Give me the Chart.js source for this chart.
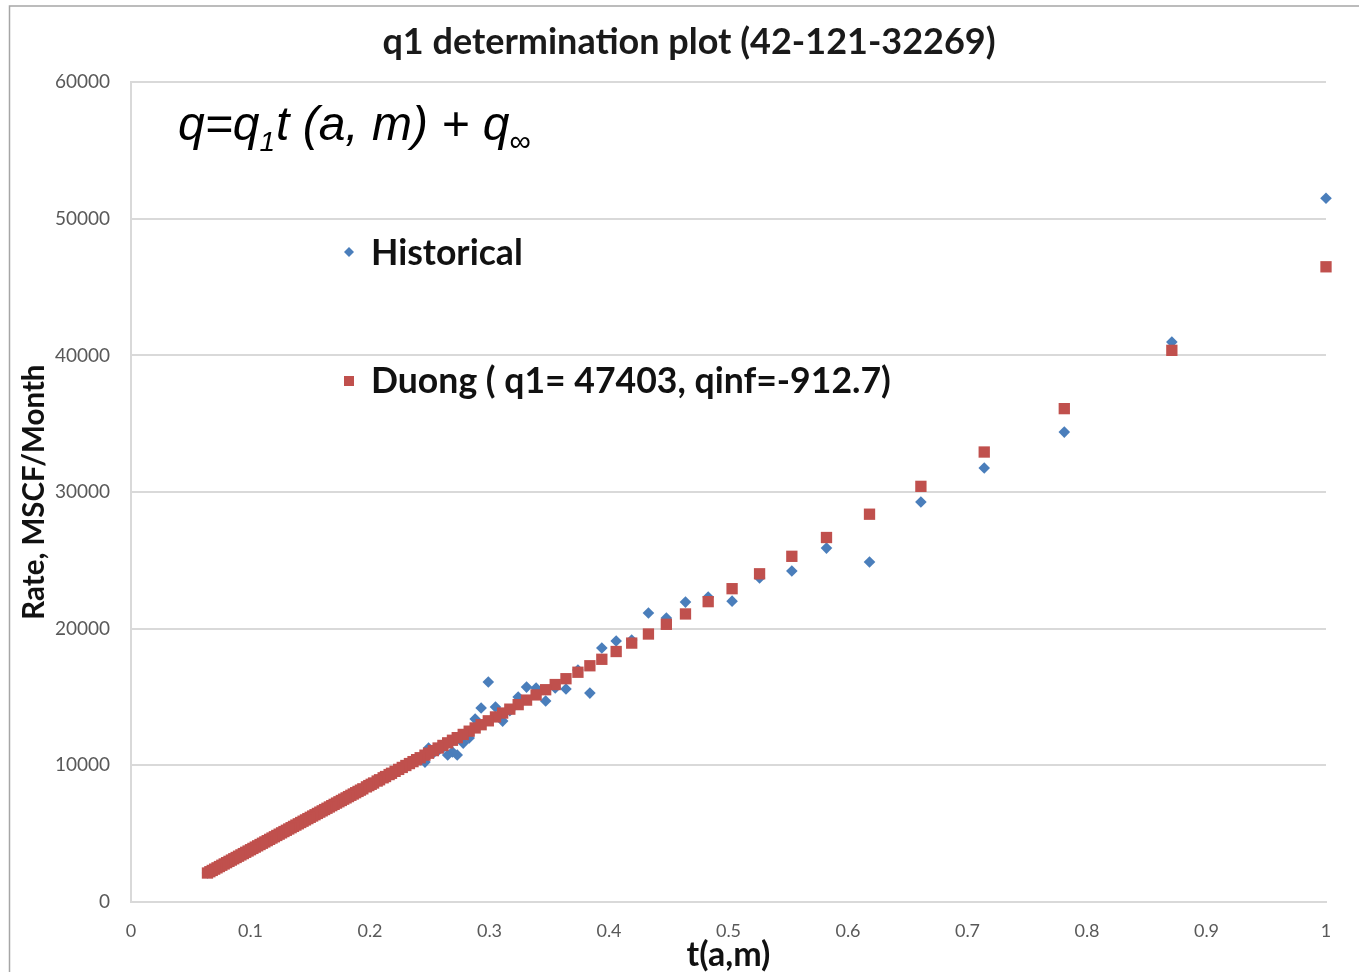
<!DOCTYPE html>
<html>
<head>
<meta charset="utf-8">
<script src="https://cdn.jsdelivr.net/npm/chart.js@4.4.1/dist/chart.umd.min.js"></script>
<style>
html,body{margin:0;padding:0;background:#fff;}
#wrap{position:relative;width:1359px;height:972px;}
canvas{display:block;}
</style>
</head>
<body>
<div id="wrap"><canvas id="c" width="1359" height="972"></canvas></div>
<script>
// ---- data ----
const tValues = [
 1.000,0.871,0.781,0.714,0.661,0.618,0.582,0.553,0.526,0.503,
 0.483,0.464,0.448,0.433,0.419,0.406,0.394,0.384,0.374,0.364,
 0.355,0.347,0.339,0.331,0.324,0.317,0.311,0.305,0.299,0.293,
 0.288,0.283,0.278,0.273,0.269,0.265,0.261,0.257,0.253,0.249,
 0.246,0.242,
 0.239,0.236,0.233,0.230,0.227,0.224,0.221,0.218,0.216,0.213,
 0.211,0.208,0.206,0.203,0.201,0.199,0.197,0.194,0.192,0.190,
 0.188,0.186,0.184,0.182,
 0.180,0.178,0.176,0.174,0.172,0.170,0.168,0.166,0.164,0.162,
 0.160,0.158,0.156,0.154,0.152,0.150,0.148,0.146,0.144,0.142,
 0.140,0.138,0.136,0.134,0.132,0.130,0.128,0.126,0.124,0.122,
 0.120,0.118,0.116,0.114,0.112,0.110,0.108,0.106,0.104,0.102,
 0.100,0.098,0.096,0.094,0.092,0.090,0.088,0.086,0.084,0.082,
 0.080,0.078,0.076,0.074,0.072,0.070,0.068,0.066,0.064
];
const historicalRate = [
 51510,40980,34390,31760,29270,24880,25900,24220,23710,22020,
 22320,21950,20780,21150,19170,19100,18590,15290,16980,15590,
 15660,14710,15660,15730,15000,14000,13240,14270,16100,14200,
 13390,12000,11630,10760,10980,10760,11300,11100,10900,11270,
 10240,10400,
 10480,10210,10180,9940,9890,9660,9600,9380,9360,9150,
 9120,8900,8880,8680,8640,8490,8450,8250,8210,8060,
 8020,7880,7830,7690,
 7640,7500,7450,7310,7260,7120,7070,6930,6880,6740,
 6690,6550,6500,6360,6310,6170,6120,5980,5930,5790,
 5740,5600,5550,5410,5360,5230,5170,5040,4980,4850,
 4790,4660,4600,4470,4410,4280,4220,4090,4030,3900,
 3840,3710,3650,3520,3460,3330,3270,3140,3080,2950,
 2890,2760,2700,2570,2510,2380,2320,2190,2130
];
const duongRate = [
 46490,40375,36109,32933,30420,28382,26676,25301,24021,22931,
 21983,21082,20324,19613,18949,18333,17764,17290,16816,16342,
 15915,15536,15157,14777,14446,14114,13829,13545,13261,12976,
 12739,12502,12265,12028,11838,11649,11459,11270,11080,10890,
 10748,10559,
 10416,10274,10132,9990,9848,9705,9563,9421,9326,9184,
 9089,8947,8852,8710,8615,8520,8425,8283,8188,8094,
 7999,7904,7809,7714,
 7620,7525,7430,7335,7240,7146,7051,6956,6861,6766,
 6672,6577,6482,6387,6292,6198,6103,6008,5913,5818,
 5723,5629,5534,5439,5344,5249,5155,5060,4965,4870,
 4775,4681,4586,4491,4396,4301,4207,4112,4017,3922,
 3827,3733,3638,3543,3448,3353,3259,3164,3069,2974,
 2879,2785,2690,2595,2500,2405,2311,2216,2121
];
const seriesNames = ['Historical', 'Duong ( q1= 47403, qinf=-912.7)'];
const xTickLabels = ['0','0.1','0.2','0.3','0.4','0.5','0.6','0.7','0.8','0.9','1'];
const yTickLabels = ['0','10000','20000','30000','40000','50000','60000'];
const chartTitle = 'q1 determination plot (42-121-32269)';
const xAxisTitle = 't(a,m)';
const yAxisTitle = 'Rate, MSCF/Month';

// ---- build points ----
const histPts = tValues.map((t, i) => ({x: t, y: historicalRate[i]}));
const duongPts = tValues.map((t, i) => ({x: t, y: duongRate[i]}));

const BLUE = '#4a7ebb';
const RED = '#c0504d';

const framePlugin = {
  id: 'frame',
  afterDraw(chart) {
    const ctx = chart.ctx;
    ctx.save();
    ctx.strokeStyle = '#a6a6a6';
    ctx.lineWidth = 1.5;
    ctx.beginPath();
    ctx.moveTo(9.5, 975);
    ctx.lineTo(9.5, 6);
    ctx.lineTo(1362, 6);
    ctx.stroke();
    ctx.restore();
  }
};

const equationPlugin = {
  id: 'equation',
  afterDraw(chart) {
    const ctx = chart.ctx;
    ctx.save();
    ctx.fillStyle = '#000';
    ctx.textBaseline = 'alphabetic';
    let x = 178;
    const base = 140;
    ctx.font = 'italic 48px "Liberation Sans", Arial, sans-serif';
    ctx.fillText('q=q', x, base);
    x += ctx.measureText('q=q').width;
    ctx.font = 'italic 28px "Liberation Sans", Arial, sans-serif';
    ctx.fillText('1', x, base + 11);
    x += ctx.measureText('1').width + 1;
    ctx.font = 'italic 48px "Liberation Sans", Arial, sans-serif';
    ctx.fillText('t (a, m) + q', x, base);
    x += ctx.measureText('t (a, m) + q').width;
    ctx.font = '30px "Liberation Sans", Arial, sans-serif';
    ctx.fillText('\u221E', x, base + 11);
    ctx.restore();
  }
};

const customLegend = {
  id: 'customLegend',
  afterDraw(chart) {
    const ctx = chart.ctx;
    const ds = chart.data.datasets;
    ctx.save();
    // Historical marker (diamond)
    ctx.fillStyle = BLUE;
    ctx.beginPath();
    ctx.moveTo(349, 247); ctx.lineTo(354, 252); ctx.lineTo(349, 257); ctx.lineTo(344, 252);
    ctx.closePath(); ctx.fill();
    // Duong marker (square)
    ctx.fillStyle = RED;
    ctx.fillRect(344, 376, 10, 10);
    ctx.fillStyle = '#111';
    ctx.font = 'bold 35.6px Lato, "Open Sans", sans-serif';
    ctx.textBaseline = 'alphabetic';
    ctx.fillText(ds[0].label, 371, 265);
    ctx.fillText(ds[1].label, 371, 393);
    ctx.restore();
  }
};

new Chart(document.getElementById('c'), {
  type: 'scatter',
  data: {
    datasets: [
      {
        label: seriesNames[0],
        data: histPts,
        pointStyle: 'rectRot',
        pointRadius: 5.8,
        backgroundColor: BLUE,
        borderWidth: 0,
        clip: false,
        order: 2
      },
      {
        label: seriesNames[1],
        data: duongPts,
        pointStyle: 'rect',
        pointRadius: 8,
        backgroundColor: RED,
        borderWidth: 0,
        clip: false,
        order: 1
      }
    ]
  },
  options: {
    responsive: false,
    animation: false,
    devicePixelRatio: 1,
    events: [],
    layout: { padding: { left: 52, right: 33, top: 0, bottom: 0 } },
    plugins: {
      legend: { display: false },
      tooltip: { enabled: false },
      title: {
        display: true,
        text: chartTitle,
        color: '#1a1a1a',
        font: { family: 'Lato, "Open Sans", sans-serif', size: 36, weight: 'bold', lineHeight: 1.2 },
        padding: { top: 21, bottom: 18 }
      }
    },
    scales: {
      x: {
        type: 'linear',
        min: 0, max: 1,
        afterFit(s) { s.height = 70; },
        ticks: {
          stepSize: 0.1,
          padding: 18,
          color: '#595959',
          font: { family: 'Lato, sans-serif', size: 18 },
          callback: (v, i) => xTickLabels[i]
        },
        grid: { display: false, drawTicks: false },
        border: { display: true, color: '#d9d9d9', width: 2 },
        title: {
          display: true,
          text: xAxisTitle,
          color: '#111',
          font: { family: 'Lato, sans-serif', size: 34, weight: 'bold', lineHeight: 1.2 },
          padding: { top: 0, bottom: -3 }
        }
      },
      y: {
        type: 'linear',
        min: 0, max: 60000,
        afterFit(s) { s.width = 79; },
        ticks: {
          stepSize: 10000,
          padding: 21,
          color: '#595959',
          font: { family: 'Lato, sans-serif', size: 19 },
          callback: (v, i) => yTickLabels[i]
        },
        grid: { color: '#d9d9d9', lineWidth: 2, drawTicks: false },
        border: { display: true, color: '#d9d9d9', width: 2 },
        title: {
          display: true,
          text: yAxisTitle,
          color: '#111',
          font: { family: 'Lato, sans-serif', size: 29.5, weight: 'bold', lineHeight: 1.2 },
          padding: { top: -35, bottom: 0 }
        }
      }
    }
  },
  plugins: [framePlugin, equationPlugin, customLegend]
});
</script>
</body>
</html>
